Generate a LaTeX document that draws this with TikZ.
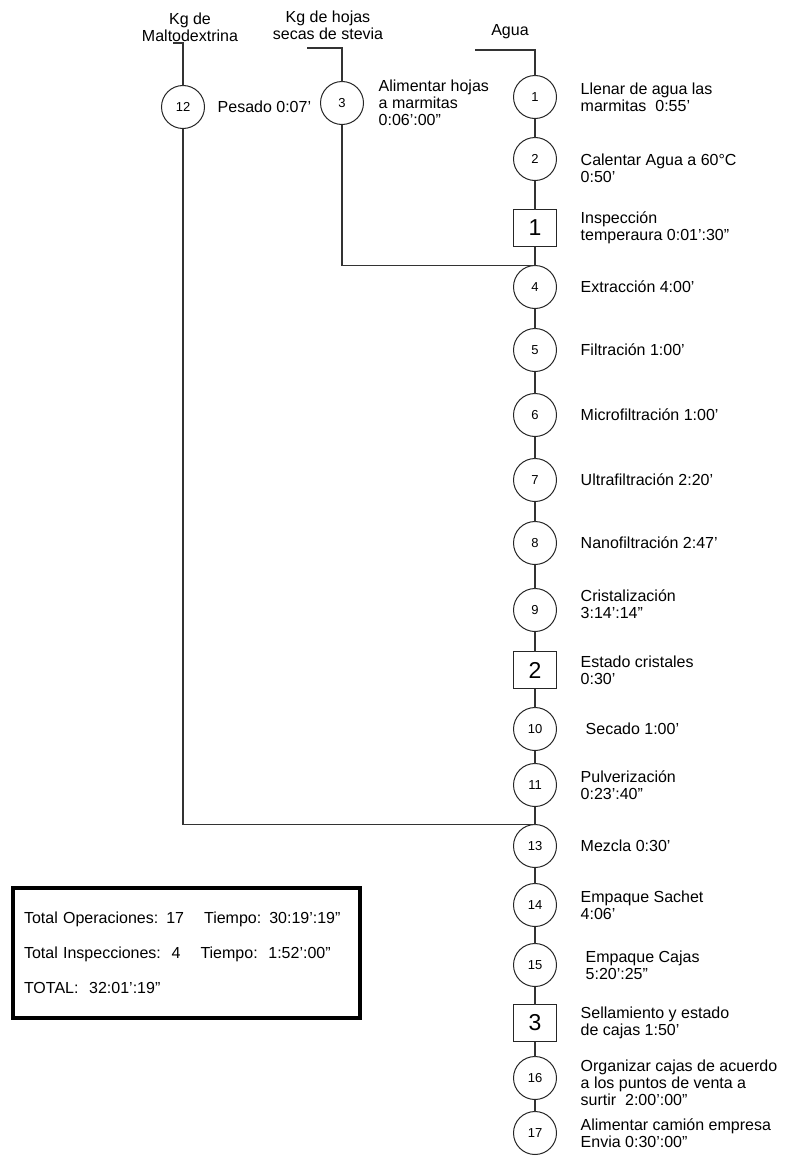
\documentclass[tikz,border=0pt]{standalone}
\usepackage{fontspec}
\setmainfont{Liberation Sans}
\usetikzlibrary{positioning}

\begin{document}
\begin{tikzpicture}[
    x=1pt, y=-1pt,
    font=\fontsize{16}{17}\selectfont,
    node distance=20pt,
    op/.style={circle,draw=black!85,line width=1pt,minimum size=43pt,
      inner sep=0pt,outer sep=0pt,font=\fontsize{13}{13}\selectfont},
    insp/.style={rectangle,draw=black!85,line width=1pt,minimum width=43pt,
      minimum height=37pt,inner sep=0pt,outer sep=0pt,
      font=\fontsize{23}{23}\selectfont},
    lbl/.style={align=left,inner sep=0pt},
    src/.style={align=center,inner sep=0pt},
    flow/.style={draw=black!80,line width=1.1pt},
    totbox/.style={draw=black,line width=4.5pt,minimum width=347pt,
      minimum height=130pt,text width=325pt,align=left,inner sep=0pt}
  ]
  \useasboundingbox (0,0) rectangle (787,1156);

  % main line
  \node[op] (c1) at (535,97) {1};
  \node[op,below=19pt of c1] (c2) {2};
  \node[insp,below=29pt of c2] (i1) {1};
  \node[op,below=19pt of i1] (c4) {4};
  \node[op,below=of c4] (c5) {5};
  \node[op,below=22pt of c5] (c6) {6};
  \node[op,below=22pt of c6] (c7) {7};
  \node[op,below=of c7] (c8) {8};
  \node[op,below=24pt of c8] (c9) {9};
  \node[insp,below=of c9] (i2) {2};
  \node[op,below=19pt of i2] (c10) {10};
  \node[op,below=13pt of c10] (c11) {11};
  \node[op,below=18pt of c11] (c13) {13};
  \node[op,below=16pt of c13] (c14) {14};
  \node[op,below=17pt of c14] (c15) {15};
  \node[insp,below=18pt of c15] (i3) {3};
  \node[op,below=15pt of i3] (c16) {16};
  \node[op,below=12pt of c16] (c17) {17};

  % side lines
  \node[op] (c12) at (183,107) {12};
  \node[op] (c3) at (342,103) {3};

  \node[src] (malto) at (190,27) {Kg de\\Maltodextrina};
  \node[src] (hojas) at (328,25) {Kg de hojas\\secas de stevia};
  \node[src] (agua) at (510,32) {Agua};
  \coordinate (maltoIn) at (173,43);
  \coordinate (hojasIn) at (307,48);
  \coordinate (aguaIn) at (475,50);

  % labels
  \node[lbl,right=13pt of c12] (t12) {Pesado 0:07'};
  \node[lbl,right=15pt of c3] (t3) {Alimentar hojas\\a marmitas\\0:06':00''};
  \node[lbl,right=24pt of c1] (t1) {Llenar de agua las\\marmitas\ \ 0:55'};
  \node[lbl,right=24pt of c2,yshift=-9pt] (t2) {Calentar Agua a 60°C\\0:50'};
  \node[lbl,right=24pt of i1] (ti1) {Inspección\\temperaura 0:01':30''};
  \node[lbl,right=24pt of c4] (t4) {Extracción 4:00'};
  \node[lbl,right=24pt of c5] (t5) {Filtración 1:00'};
  \node[lbl,right=24pt of c6] (t6) {Microfiltración 1:00'};
  \node[lbl,right=24pt of c7] (t7) {Ultrafiltración 2:20'};
  \node[lbl,right=24pt of c8] (t8) {Nanofiltración 2:47'};
  \node[lbl,right=24pt of c9,yshift=6pt] (t9) {Cristalización\\3:14':14''};
  \node[lbl,right=24pt of i2] (ti2) {Estado cristales\\0:30'};
  \node[lbl,right=29pt of c10] (t10) {Secado 1:00'};
  \node[lbl,right=24pt of c11] (t11) {Pulverización\\0:23':40''};
  \node[lbl,right=24pt of c13] (t13) {Mezcla 0:30'};
  \node[lbl,right=24pt of c14] (t14) {Empaque Sachet\\4:06'};
  \node[lbl,right=29pt of c15] (t15) {Empaque Cajas\\5:20':25''};
  \node[lbl,right=24pt of i3] (ti3) {Sellamiento y estado\\de cajas 1:50'};
  \node[lbl,right=24pt of c16,yshift=-5pt] (t16)
    {Organizar cajas de acuerdo\\a los puntos de venta a\\surtir\ \ 2:00':00''};
  \node[lbl,right=24pt of c17] (t17) {Alimentar camión empresa\\Envia 0:30':00''};

  % summary
  \node[totbox] (total) at (186.5,953)
    {Total Operaciones: 17\hspace{20pt}Tiempo: 30:19':19''\\[18pt]
     Total Inspecciones:\ \ 4\hspace{20pt}Tiempo:\ \ 1:52':00''\\[18pt]
     TOTAL:\ \ 32:01':19''};

  \draw[flow] (aguaIn) -| (c1);
  \draw[flow] (hojasIn) -| (c3);
  \draw[flow] (maltoIn) -| (c12);
  \draw[flow] (c1) -- (c2) -- (i1) -- (c4) -- (c5) -- (c6) -- (c7) -- (c8)
    -- (c9) -- (i2) -- (c10) -- (c11) -- (c13) -- (c14) -- (c15) -- (i3)
    -- (c16) -- (c17);
  \draw[flow] (c3) |- (c4.north);
  \draw[flow] (c12) |- (c13.north);
\end{tikzpicture}
\end{document}
